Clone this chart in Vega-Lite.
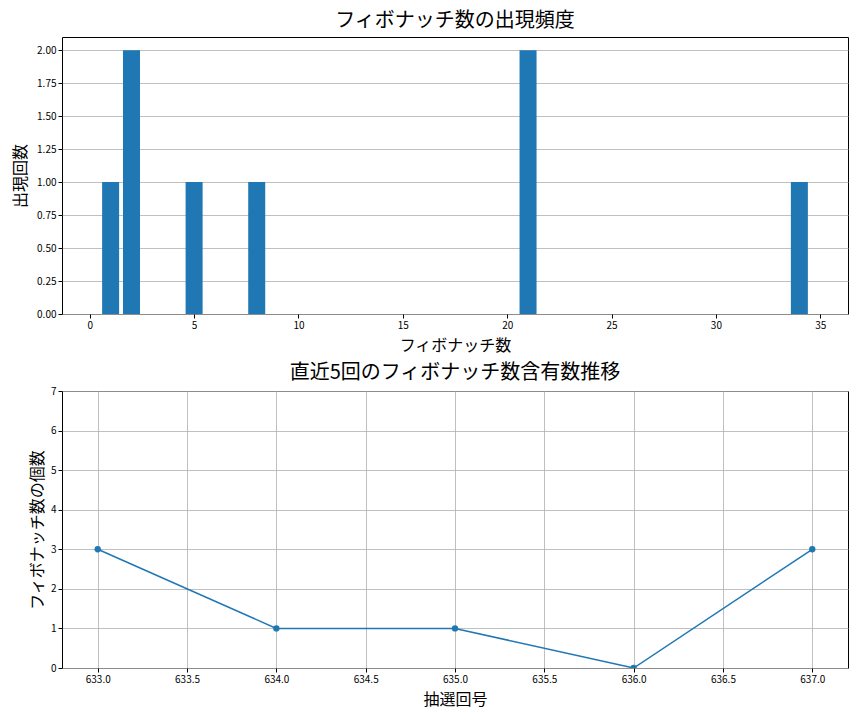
{
  "$schema": "https://vega.github.io/schema/vega-lite/v6.json",
  "padding": {"left": 12, "top": 10, "right": 1, "bottom": 5},
  "background": "white",
  "spacing": 8,
  "config": {
    "font": "Noto Sans CJK JP",
    "view": {"stroke": "black", "strokeWidth": 1},
    "axis": {
      "labelFont": "Noto Sans CJK JP",
      "labelFontSize": 10,
      "labelColor": "black",
      "titleFont": "Noto Sans CJK JP",
      "titleFontSize": 16,
      "titleFontWeight": "normal",
      "titleColor": "black",
      "tickColor": "black",
      "tickSize": 4,
      "domain": false,
      "gridColor": "#b0b0b0",
      "gridWidth": 0.8
    },
    "title": {"font": "Noto Sans CJK JP", "fontSize": 20, "fontWeight": "normal", "color": "black", "offset": 6}
  },
  "datasets": {
    "fib": [
      {"number": 1, "count": 1},
      {"number": 2, "count": 2},
      {"number": 5, "count": 1},
      {"number": 8, "count": 1},
      {"number": 21, "count": 2},
      {"number": 34, "count": 1}
    ],
    "recent": [
      {"draw": 633, "fibcount": 3},
      {"draw": 634, "fibcount": 1},
      {"draw": 635, "fibcount": 1},
      {"draw": 636, "fibcount": 0},
      {"draw": 637, "fibcount": 3}
    ]
  },
  "vconcat": [
    {
      "title": "フィボナッチ数の出現頻度",
      "width": 786,
      "height": 277,
      "data": {"name": "fib"},
      "mark": {"type": "bar", "color": "#1f77b4", "size": 17, "clip": true},
      "encoding": {
        "x": {
          "field": "number", "type": "quantitative", "title": "フィボナッチ数",
          "scale": {"domain": [-1.09, 36.09], "nice": false, "zero": false},
          "axis": {"values": [0, 5, 10, 15, 20, 25, 30, 35], "grid": false, "format": "d", "labelFlush": false, "titlePadding": 7}
        },
        "y": {
          "field": "count", "type": "quantitative", "title": "出現回数",
          "scale": {"domain": [0, 2.1], "nice": false},
          "axis": {"values": [0, 0.25, 0.5, 0.75, 1, 1.25, 1.5, 1.75, 2], "format": ".2f", "grid": true, "titlePadding": 8, "labelFlush": false}
        }
      }
    },
    {
      "title": {"text": "直近5回のフィボナッチ数含有数推移", "offset": 3},
      "width": 786,
      "height": 277,
      "data": {"name": "recent"},
      "mark": {"type": "line", "color": "#1f77b4", "strokeWidth": 1.5, "point": {"filled": true, "size": 40, "color": "#1f77b4", "opacity": 1}, "clip": true},
      "encoding": {
        "x": {
          "field": "draw", "type": "quantitative", "title": "抽選回号",
          "scale": {"domain": [632.8, 637.2], "nice": false, "zero": false},
          "axis": {"values": [633, 633.5, 634, 634.5, 635, 635.5, 636, 636.5, 637], "format": ".1f", "grid": true, "labelFlush": false, "titlePadding": 7}
        },
        "y": {
          "field": "fibcount", "type": "quantitative", "title": "フィボナッチ数の個数",
          "scale": {"domain": [0, 7], "nice": false},
          "axis": {"values": [0, 1, 2, 3, 4, 5, 6, 7], "grid": true, "titlePadding": 5, "labelFlush": false}
        }
      }
    }
  ]
}
